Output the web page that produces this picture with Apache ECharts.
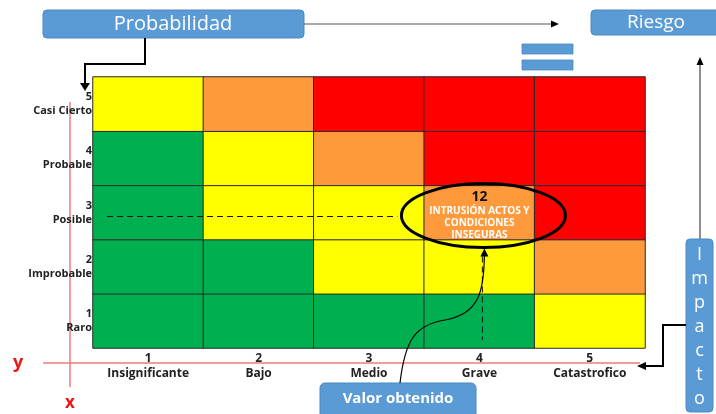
<!DOCTYPE html>
<html>
<head>
<meta charset="utf-8">
<script src="https://cdn.jsdelivr.net/npm/echarts@6/dist/echarts.min.js"></script>
<style>
  html, body { margin: 0; padding: 0; background: #fff; }
  #chart { width: 716px; height: 414px; }
</style>
</head>
<body>
<div id="chart"></div>
<script>
// impact (x) and probability (y) scales
const impactNums = ['1', '2', '3', '4', '5'];
const impactNames = ['Insignificante', 'Bajo', 'Medio', 'Grave', 'Catastrofico'];
const probNums = ['1', '2', '3', '4', '5'];
const probNames = ['Raro', 'Improbable', 'Posible', 'Probable', 'Casi Cierto'];

// risk value per cell, rows from Raro (bottom) to Casi Cierto (top)
const riskRows = [
  [1, 2, 3, 4, 5],
  [2, 4, 6, 8, 10],
  [3, 6, 9, 12, 15],
  [4, 8, 12, 16, 20],
  [5, 10, 15, 20, 25]
];

// the evaluated cell
const evaluated = { impact: 3, prob: 2, value: 12, lines: ['INTRUSIÓN ACTOS Y', 'CONDICIONES', 'INSEGURAS'] };

const FONT = '"Open Sans", Lato, sans-serif';
const BLUE = '#5B9BD5';
const BLUE_EDGE = '#4C88C1';
const RED_AXIS = '#F27A7A';

const cells = [];
riskRows.forEach((row, yi) => {
  row.forEach((v, xi) => {
    const item = { value: [xi, yi, v] };
    if (xi === evaluated.impact && yi === evaluated.prob) {
      item.label = {
        show: true,
        offset: [0, 3],
        formatter: '{n|' + evaluated.value + '}\n' + evaluated.lines.map(l => '{t|' + l + '}').join('\n'),
        rich: {
          n: { fontFamily: FONT, fontWeight: 'bold', fontSize: 14, color: '#111', lineHeight: 16, align: 'center' },
          t: { fontFamily: FONT, fontWeight: 'bold', fontSize: 10, color: '#fff', lineHeight: 12, align: 'center' }
        }
      };
    }
    cells.push(item);
  });
});

const chart = echarts.init(document.getElementById('chart'), null, { renderer: 'canvas' });

const grid = { left: 93, top: 77, right: 71, bottom: 66 };

chart.setOption({
  backgroundColor: '#fff',
  animation: false,
  grid: grid,
  xAxis: {
    type: 'category',
    data: impactNums,
    axisLine: { show: false },
    axisTick: { show: false },
    splitArea: { show: false },
    axisLabel: {
      margin: 3,
      formatter: (v, i) => '{n|' + v + '}\n{t|' + impactNames[i] + '}',
      rich: {
        n: { fontFamily: FONT, fontWeight: 'bold', fontSize: 12, color: '#222', lineHeight: 15 },
        t: { fontFamily: FONT, fontWeight: 'bold', fontSize: 12, color: '#222', lineHeight: 15 }
      }
    }
  },
  yAxis: {
    type: 'category',
    data: probNums,
    axisLine: { show: false },
    axisTick: { show: false },
    axisLabel: {
      margin: 1,
      align: 'right',
      formatter: (v, i) => '{n|' + v + '}\n{t|' + probNames[i] + '}',
      rich: {
        n: { fontFamily: FONT, fontWeight: 'bold', fontSize: 11, color: '#222', lineHeight: 14, align: 'right' },
        t: { fontFamily: FONT, fontWeight: 'bold', fontSize: 11, color: '#222', lineHeight: 14, align: 'right' }
      }
    }
  },
  visualMap: {
    show: false,
    type: 'piecewise',
    dimension: 2,
    pieces: [
      { lte: 4, color: '#00B050' },
      { gte: 5, lte: 9, color: '#FFFF00' },
      { gte: 10, lte: 12, color: '#FF9A3C' },
      { gte: 15, color: '#FF0000' }
    ]
  },
  series: [{
    type: 'heatmap',
    data: cells,
    itemStyle: { borderColor: '#2a2a2a', borderWidth: 1 },
    emphasis: { disabled: true }
  }]
});

// annotations tied to the evaluated cell
const ctr = chart.convertToPixel({ seriesIndex: 0 }, [evaluated.impact, evaluated.prob]);
const gridBottom = 414 - grid.bottom;
const rx = 82, ry = 32;
const ex = ctr[0] + 5, ey = ctr[1] + ry + 3;

chart.setOption({
  graphic: [
    // red reference axes
    { type: 'line', z: 0, shape: { x1: 70, y1: 102, x2: 70, y2: 387 }, style: { stroke: RED_AXIS, lineWidth: 1.5 } },
    { type: 'line', z: 0, shape: { x1: 43, y1: 363, x2: 640, y2: 363 }, style: { stroke: RED_AXIS, lineWidth: 1.5 } },
    { type: 'text', style: { x: 18, y: 363, text: 'y', fill: '#E81818', font: 'bold 18px ' + FONT, align: 'center', verticalAlign: 'middle' } },
    { type: 'text', style: { x: 70, y: 403, text: 'x', fill: '#E81818', font: 'bold 17px ' + FONT, align: 'center', verticalAlign: 'middle' } },

    // dashed guides
    { type: 'line', z: 10, shape: { x1: grid.left + 14, y1: ctr[1] + 4, x2: ctr[0] - rx, y2: ctr[1] + 4 }, style: { stroke: '#111', lineWidth: 1, lineDash: [6, 4] } },
    { type: 'line', z: 10, shape: { x1: ctr[0] + 3, y1: ctr[1] + ry + 12, x2: ctr[0] + 3, y2: gridBottom - 8 }, style: { stroke: '#111', lineWidth: 1, lineDash: [6, 4] } },

    // ellipse around evaluated cell
    { type: 'ellipse', z: 10, shape: { cx: ctr[0] + 4, cy: ctr[1] + 3, rx: rx, ry: ry }, style: { fill: 'none', stroke: '#000', lineWidth: 3 } },

    // s-curve from "Valor obtenido" to the ellipse
    { type: 'bezierCurve', z: 10, shape: { x1: 400, y1: 383, cpx1: 405, cpy1: 340, cpx2: 415, cpy2: 325, x2: 445, y2: 320 }, style: { fill: 'none', stroke: '#000', lineWidth: 1.2 } },
    { type: 'bezierCurve', z: 10, shape: { x1: 445, y1: 320, cpx1: 480, cpy1: 314, cpx2: 484, cpy2: 290, x2: ex, y2: ey + 7 }, style: { fill: 'none', stroke: '#000', lineWidth: 1.2 } },
    { type: 'polygon', z: 10, shape: { points: [[ex, ey + 1], [ex - 4, ey + 9], [ex + 4, ey + 9]] }, style: { fill: '#000' } },

    // Probabilidad box + connectors
    { type: 'rect', shape: { x: 43, y: 10, width: 261, height: 28, r: 4 }, style: { fill: BLUE, stroke: BLUE_EDGE, lineWidth: 1 } },
    { type: 'text', style: { x: 173, y: 24, text: 'Probabilidad', fill: '#fff', font: '20px ' + FONT, align: 'center', verticalAlign: 'middle' } },
    { type: 'polyline', shape: { points: [[145, 38], [145, 64], [85, 64], [85, 84]] }, style: { fill: 'none', stroke: '#000', lineWidth: 2 } },
    { type: 'polygon', shape: { points: [[85, 91], [80, 83], [90, 83]] }, style: { fill: '#000' } },
    { type: 'line', shape: { x1: 304, y1: 24, x2: 552, y2: 24 }, style: { stroke: '#555', lineWidth: 1.2 } },
    { type: 'polygon', shape: { points: [[559, 24], [551, 20.5], [551, 27.5]] }, style: { fill: '#000' } },

    // Riesgo box and equals sign
    { type: 'rect', shape: { x: 591, y: 10, width: 132, height: 25, r: 4 }, style: { fill: BLUE, stroke: BLUE_EDGE, lineWidth: 1 } },
    { type: 'text', style: { x: 656, y: 23, text: 'Riesgo', fill: '#fff', font: '19px ' + FONT, align: 'center', verticalAlign: 'middle' } },
    { type: 'rect', shape: { x: 522, y: 44, width: 51, height: 10 }, style: { fill: BLUE, stroke: BLUE_EDGE, lineWidth: 0.8 } },
    { type: 'rect', shape: { x: 522, y: 60, width: 51, height: 10 }, style: { fill: BLUE, stroke: BLUE_EDGE, lineWidth: 0.8 } },

    // Impacto box + connectors
    { type: 'line', shape: { x1: 700, y1: 239, x2: 700, y2: 64 }, style: { stroke: '#444', lineWidth: 1.2 } },
    { type: 'polygon', shape: { points: [[700, 57], [696.5, 65], [703.5, 65]] }, style: { fill: '#000' } },
    { type: 'rect', shape: { x: 686, y: 239, width: 27, height: 173, r: 4 }, style: { fill: BLUE, stroke: BLUE_EDGE, lineWidth: 1 } },
    { type: 'text', style: { x: 699.5, y: 327, text: 'I\nm\np\na\nc\nt\no', fill: '#fff', font: '18px ' + FONT, lineHeight: 24, align: 'center', verticalAlign: 'middle' } },
    { type: 'polyline', shape: { points: [[686, 325], [663, 325], [663, 366], [645, 366]] }, style: { fill: 'none', stroke: '#000', lineWidth: 2 } },
    { type: 'polygon', shape: { points: [[637, 366], [646, 362], [646, 370]] }, style: { fill: '#000' } },

    // Valor obtenido box
    { type: 'rect', shape: { x: 320, y: 383, width: 156, height: 36, r: 5 }, style: { fill: BLUE, stroke: BLUE_EDGE, lineWidth: 1 } },
    { type: 'text', style: { x: 398, y: 399, text: 'Valor obtenido', fill: '#fff', font: 'bold 15px ' + FONT, align: 'center', verticalAlign: 'middle' } }
  ]
});
</script>
</body>
</html>
